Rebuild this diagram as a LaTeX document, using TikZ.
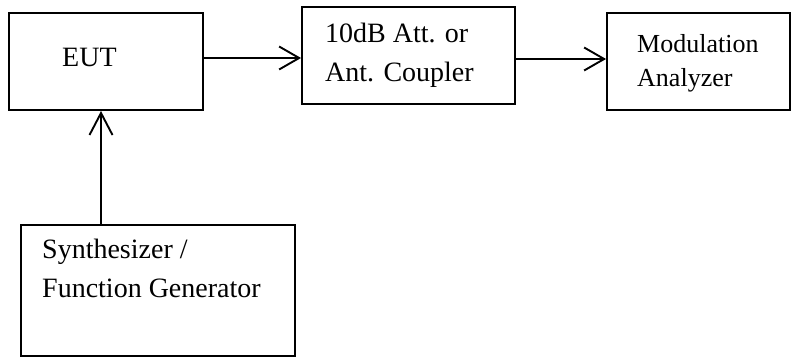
\documentclass[tikz,border=0pt]{standalone}
\usepackage{fontspec}
\setmainfont{Liberation Serif}
\usetikzlibrary{arrows.meta}
\begin{document}
\begin{tikzpicture}[x=1pt,y=1pt,
  box/.style={draw,line width=1.9pt,rectangle,inner sep=0pt},
  lbl/.style={inner sep=0pt,anchor=base west,align=left,font=\fontsize{28}{39}\selectfont},
  lblsmall/.style={inner sep=0pt,anchor=base west,align=left,font=\fontsize{26}{34}\selectfont},
  arr/.style={line width=1.9pt,-{Straight Barb[length=20pt,width=23pt,line width=1.9pt]}},
  varr/.style={line width=1.9pt,-{Straight Barb[length=22pt,width=23pt,line width=1.9pt]}}]
\useasboundingbox (0,0) rectangle (791,-358);
\node[box,minimum width=194,minimum height=97] (EUT) at (106,-61.5) {};
\node[box,minimum width=213,minimum height=97] (Att) at (408.5,-55.5) {};
\node[box,minimum width=183,minimum height=97] (Mod) at (698.5,-61.5) {};
\node[box,minimum width=274,minimum height=131] (Syn) at (158,-290.5) {};
\node[lbl] (tEUT) at (62,-67) {EUT};
\node[lbl] (tAtt) at (325,-82) {10dB Att. or\\Ant. Coupler};
\node[lblsmall] (tMod) at (637,-87) {Modulation\\Analyzer};
\node[lbl] (tSyn) at (42,-297) {Synthesizer /\\Function Generator};
\draw[arr] (EUT.east |- 0,-58) -- (Att.west |- 0,-58);
\draw[arr] (Att.east |- 0,-59) -- (Mod.west |- 0,-59);
\draw[varr] (Syn.north -| 101,0) -- (EUT.south -| 101,0);
\end{tikzpicture}
\end{document}
